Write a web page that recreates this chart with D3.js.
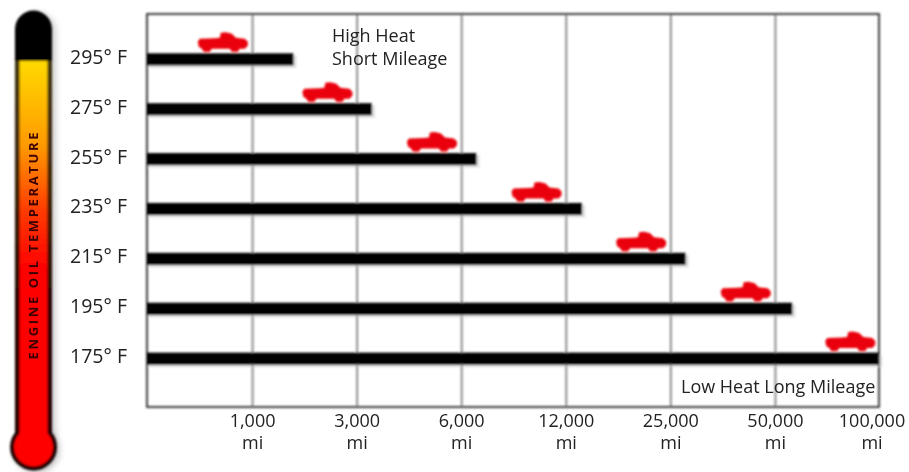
<!DOCTYPE html>
<html><head><meta charset="utf-8">
<script src="https://cdn.jsdelivr.net/npm/d3@7"></script>
<style>html,body{margin:0;padding:0;background:#fff}svg{display:block}text{font-family:"Open Sans",sans-serif;fill:#222}</style>
</head><body><svg id="c" width="909" height="472"></svg>
<script>
const temps=[295,275,255,235,215,195,175];
const barMiles=[1800,3450,6900,14080,28750,58500,100000];
const truckMiles=[720,2440,5160,10320,21360,43000,86000];
const tickMiles=[1000,3000,6000,12000,25000,50000,100000];
const tickLabels=["1,000","3,000","6,000","12,000","25,000","50,000","100,000"];
const domainMiles=[0].concat(tickMiles);
const pL=147,pR=879,pT=14,pB=407;
const step=(pR-pL)/7;
const x=d3.scaleLinear().domain(domainMiles).range(domainMiles.map((d,i)=>pL+i*step));
const y=d3.scaleLinear().domain([295,175]).range([59.3,358.6]);
const svg=d3.select("#c");
const defs=svg.append("defs");
const f=defs.append("filter").attr("id","blur").attr("x","-5%").attr("y","-5%").attr("width","110%").attr("height","110%");
f.append("feGaussianBlur").attr("stdDeviation",0.9);
const ft=defs.append("filter").attr("id","tblur").attr("x","-5%").attr("y","-20%").attr("width","110%").attr("height","140%");
ft.append("feGaussianBlur").attr("stdDeviation",0.55);
const fs=defs.append("filter").attr("id","sh").attr("x","-30%").attr("y","-10%").attr("width","160%").attr("height","120%");
fs.append("feGaussianBlur").attr("stdDeviation",3);
const g=defs.append("linearGradient").attr("id","merc").attr("gradientUnits","userSpaceOnUse").attr("x1",0).attr("x2",0).attr("y1",62).attr("y2",270);
[[0,"#ffd800"],[0.4,"#ff9a00"],[0.72,"#ff3a00"],[1,"#ff0000"]].forEach(s=>g.append("stop").attr("offset",s[0]).attr("stop-color",s[1]));
const gb=defs.append("linearGradient").attr("id","edge").attr("gradientUnits","userSpaceOnUse").attr("x1",0).attr("x2",0).attr("y1",62).attr("y2",300);
[[0,"#3f340c"],[0.5,"#3a2006"],[1,"#220404"]].forEach(s=>gb.append("stop").attr("offset",s[0]).attr("stop-color",s[1]));

// thermometer
const tx=33.5;
const tube=d3.path();
tube.moveTo(tx-18.5,440);tube.lineTo(tx-18.5,29);tube.arc(tx,29,18.5,Math.PI,0);tube.lineTo(tx+18.5,440);tube.closePath();
const th=svg.append("g");
th.append("path").attr("d",tube.toString()).attr("transform","translate(4,2)").attr("fill","#999").attr("opacity",.45).attr("filter","url(#sh)");
th.append("circle").attr("cx",tx+3).attr("cy",450).attr("r",23).attr("fill","#888").attr("opacity",.5).attr("filter","url(#sh)");
const tg=th.append("g").attr("filter","url(#blur)");
tg.append("path").attr("d",tube.toString()).attr("fill","#000");
tg.append("rect").attr("x",tx-18.5).attr("y",61).attr("width",37).attr("height",375).attr("fill","url(#edge)");
tg.append("circle").attr("cx",tx).attr("cy",447).attr("r",23.5).attr("fill","#1a0000");
tg.append("rect").attr("x",tx-14).attr("y",61).attr("width",28).attr("height",385).attr("fill","url(#merc)");
tg.append("circle").attr("cx",tx).attr("cy",447).attr("r",19.5).attr("fill","#ff0000");
th.append("text").text("ENGINE OIL TEMPERATURE").attr("transform",`translate(${tx+4.5},246) rotate(-90)`)
  .attr("text-anchor","middle").attr("font-size",13).attr("font-weight",700).attr("textLength",227).attr("lengthAdjust","spacing")
  .style("fill","#3a0500").attr("filter","url(#tblur)");

// plot
const plot=svg.append("g");
const soft=plot.append("g").attr("filter","url(#blur)");
soft.selectAll(".grid").data(tickMiles.slice(0,-1)).join("line").attr("class","grid")
  .attr("x1",d=>x(d)+1).attr("x2",d=>x(d)+1).attr("y1",pT).attr("y2",pB).attr("stroke","#8c8c8c").attr("stroke-width",2);
soft.append("rect").attr("x",pL).attr("y",pT).attr("width",pR-pL).attr("height",pB-pT)
  .attr("fill","none").attr("stroke","#2a2a2a").attr("stroke-width",1.8);
soft.selectAll(".shadow").data(temps).join("rect").attr("class","shadow")
  .attr("x",pL+1).attr("y",d=>y(d)-4).attr("width",(d,i)=>x(barMiles[i])-pL+2).attr("height",12.5).attr("fill","#bbb").attr("opacity",.5);
soft.selectAll(".bar").data(temps).join("rect").attr("class","bar")
  .attr("x",pL).attr("y",d=>y(d)-6).attr("width",(d,i)=>x(barMiles[i])-pL).attr("height",12).attr("fill","#000");
const truck="M-25,-3 L-23,-6 L-8,-6.5 L-3,-7 L-2,-12 L3,-12.5 L9,-11 L13,-7 L22,-6 L25,-3 L25,1 L22,4 L17,4 L15,7 L9,7 L7,4 L-11,4 L-13,7 L-19,7 L-21,4 L-24,2 Z";
soft.selectAll(".truck").data(truckMiles).join("path").attr("class","truck").attr("d",truck)
  .attr("transform",(d,i)=>`translate(${x(d)+0.5},${y(temps[i])-14.5})`).attr("fill","#ea0008");
// labels
const lab=svg.append("g").attr("filter","url(#tblur)");
lab.selectAll(".yl").data(temps).join("text").attr("class","yl").text(d=>d+"° F")
  .attr("x",127).attr("y",d=>y(d)+4.5).attr("text-anchor","end").attr("font-size",19.5);
const xl=lab.selectAll(".xl").data(tickMiles).join("g").attr("class","xl")
  .attr("transform",(d,i)=>`translate(${x(d)+(i==6?-7:1)},0)`);
xl.append("text").text((d,i)=>tickLabels[i]).attr("y",427).attr("text-anchor","middle").attr("font-size",18);
xl.append("text").text("mi").attr("y",449).attr("text-anchor","middle").attr("font-size",18);
lab.append("text").text("High Heat").attr("x",332).attr("y",42).attr("font-size",18);
lab.append("text").text("Short Mileage").attr("x",332).attr("y",65).attr("font-size",18);
lab.append("text").text("Low Heat Long Mileage").attr("x",681).attr("y",393).attr("font-size",18);
</script></body></html>
